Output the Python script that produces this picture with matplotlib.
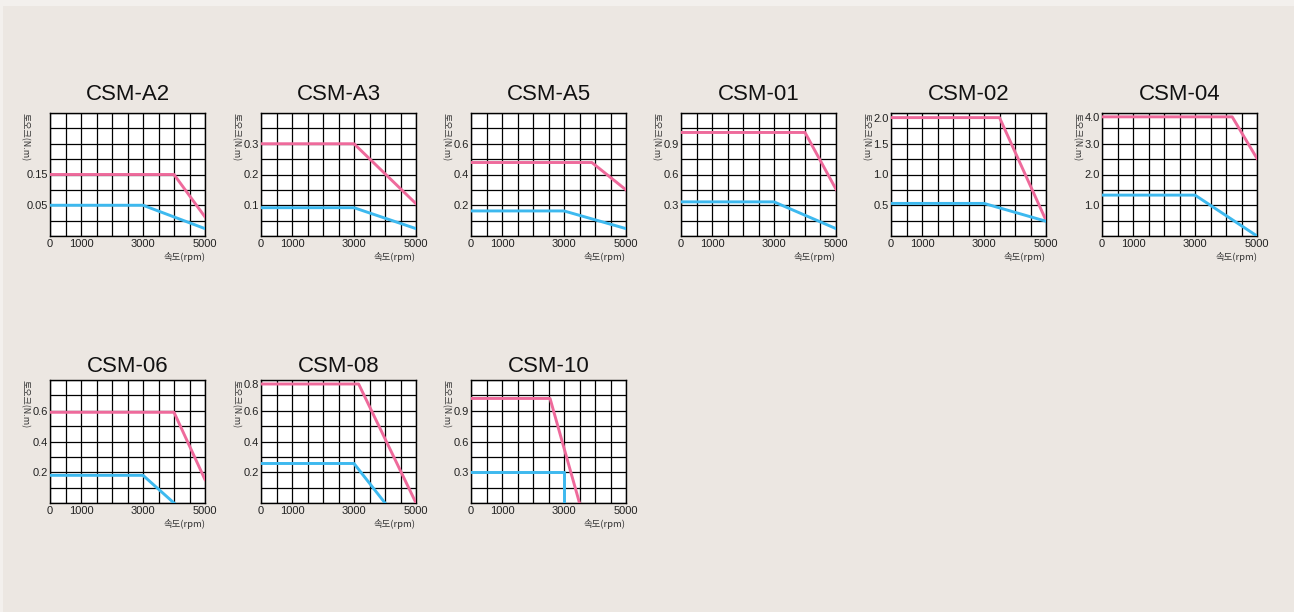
import numpy as np
import matplotlib
matplotlib.use("Agg")
import matplotlib.pyplot as plt
from matplotlib.patches import Rectangle

# motor names, one small chart each
names = ["CSM-A2", "CSM-A3", "CSM-A5", "CSM-01", "CSM-02", "CSM-04",
         "CSM-06", "CSM-08", "CSM-10"]

# peak (pink) torque curve: rpm breakpoints and torque in N.m
peak_rpm = [[0, 4000, 5000], [0, 3000, 5000], [0, 3900, 5000],
            [0, 4000, 5000], [0, 3500, 5000], [0, 4200, 5000],
            [0, 4000, 5000], [0, 3150, 5000], [0, 2550, 3500]]
peak_torque = [[0.15, 0.15, 0.031], [0.30, 0.30, 0.105], [0.478, 0.478, 0.30],
               [1.01, 1.01, 0.456], [2.0, 2.0, 0.255], [4.0, 4.0, 2.52],
               [0.59, 0.59, 0.152], [0.80, 0.80, 0.0], [1.02, 1.02, 0.0]]

# rated (blue) torque curve
rated_rpm = [[0, 3000, 5000], [0, 3000, 5000], [0, 3000, 5000],
             [0, 3000, 5000], [0, 3000, 5000], [0, 3000, 5000],
             [0, 3000, 4000], [0, 3000, 4000], [0, 3000, 3000]]
rated_torque = [[0.05, 0.05, 0.012], [0.092, 0.092, 0.024], [0.163, 0.163, 0.048],
                [0.333, 0.333, 0.072], [0.53, 0.53, 0.24], [1.33, 1.33, 0.0],
                [0.18, 0.18, 0.0], [0.257, 0.257, 0.0], [0.30, 0.30, 0.0]]

# y tick labels of each chart
ytick_vals = [[0.05, 0.15], [0.1, 0.2, 0.3], [0.2, 0.4, 0.6], [0.3, 0.6, 0.9],
              [0.5, 1.0, 1.5, 2.0], [1.0, 2.0, 3.0, 4.0], [0.2, 0.4, 0.6],
              [0.2, 0.4, 0.6, 0.8], [0.3, 0.6, 0.9]]
ytick_fmt = ["%.2f", "%.1f", "%.1f", "%.1f", "%.1f", "%.1f", "%.1f", "%.1f", "%.1f"]

# the printed axes are not quite linear: torque value at each grid row anchor
scale_torque = [[0, 0.05, 0.15, 0.25], [0, 0.4], [0, 0.8], [0, 1.2],
                [0, 0.5, 1.0, 1.5, 2.0, 2.088], [0, 1.0, 2.0, 3.0, 4.0, 4.143],
                [0, 0.8], [0, 0.2, 0.4, 0.6, 0.8, 0.83], [0, 1.2]]
scale_rows = [[0, 2, 4, 8], [0, 8], [0, 8], [0, 8],
              [0, 2, 4, 6, 7.7, 8], [0, 2, 4, 6, 7.75, 8],
              [0, 8], [0, 2, 4, 6, 7.74, 8], [0, 8]]

xticks = [0, 1000, 3000, 5000]

PINK = "#ee6a9b"
BLUE = "#3db9ef"
BG = "#ece7e2"

W, H = 1294, 612
fig = plt.figure(figsize=(W / 100, H / 100), dpi=100, facecolor="#f3f0ed")
fig.patches.append(Rectangle((3 / W, 0), 1, (H - 6) / H, transform=fig.transFigure,
                             facecolor=BG, edgecolor="none", zorder=-10))

num_font = ["Liberation Sans Narrow", "Liberation Sans", "DejaVu Sans"]
kr_font = ["Noto Sans CJK KR", "DejaVu Sans"]

lefts = [50, 261, 471, 681, 891, 1102, 50, 261, 471]
tops = [113] * 6 + [380] * 3
aw, ah = 155, 123

for i, name in enumerate(names):
    ax = fig.add_axes([lefts[i] / W, (H - tops[i] - ah) / H, aw / W, ah / H])
    ax.set_facecolor("white")

    st, sr = scale_torque[i], scale_rows[i]
    fwd = lambda v, st=st, sr=sr: np.interp(v, st, sr)
    inv = lambda r, st=st, sr=sr: np.interp(r, sr, st)
    ax.set_yscale("function", functions=(fwd, inv))

    ax.set_xlim(0, 5000)
    ax.set_ylim(st[0], st[-1])

    ax.set_xticks(xticks)
    ax.set_xticks(np.arange(0, 5001, 500), minor=True)
    ax.set_yticks(ytick_vals[i])
    ax.set_yticklabels([ytick_fmt[i] % v for v in ytick_vals[i]])
    ax.set_yticks(inv(np.arange(9)), minor=True)
    ax.xaxis.remove_overlapping_locs = False
    ax.yaxis.remove_overlapping_locs = False
    ax.grid(False, which="major")
    ax.grid(True, which="minor", color="black", linewidth=0.9)
    ax.set_axisbelow(True)
    ax.tick_params(which="both", length=0)
    ax.tick_params(axis="x", pad=2)
    ax.tick_params(axis="y", pad=1.5)
    for lab in ax.get_xticklabels() + ax.get_yticklabels():
        lab.set_family(num_font)
        lab.set_fontsize(8)
        lab.set_color("#222222")
    for sp in ax.spines.values():
        sp.set_color("black")
        sp.set_linewidth(1.0)

    ax.plot(peak_rpm[i], peak_torque[i], color=PINK, linewidth=2.1, zorder=3)
    ax.plot(rated_rpm[i], rated_torque[i], color=BLUE, linewidth=2.1, zorder=3)

    ax.set_title(name, fontsize=16, family=["Liberation Sans", "DejaVu Sans"],
                 color="#111111", pad=9 if i < 6 else 6)
    ax.text(-0.165, 1.0, "토오크(N.m)", transform=ax.transAxes, rotation=-90,
            ha="center", va="top", fontsize=6.5, family=kr_font, color="#333333")
    ax.text(1.0, -0.13, "속도(rpm)", transform=ax.transAxes, ha="right", va="top",
            fontsize=6.8, family=kr_font, color="#333333")

fig.savefig("out.png", dpi=100, facecolor=fig.get_facecolor())
